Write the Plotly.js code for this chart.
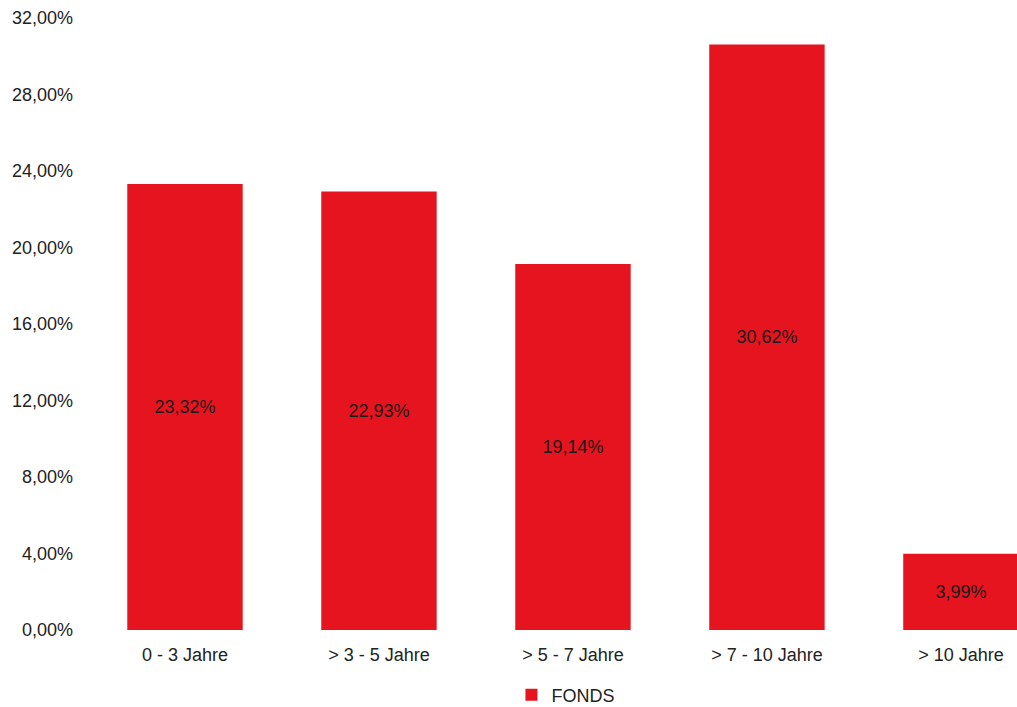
<!DOCTYPE html>
<html>
<head>
<meta charset="utf-8">
<script src="https://cdn.plot.ly/plotly-3.0.1.min.js"></script>
<style>html,body{margin:0;padding:0;background:#fff;}#chart{width:1017px;height:707px;}</style>
</head>
<body>
<div id="chart"></div>
<script>
const categories = ["0 - 3 Jahre", "> 3 - 5 Jahre", "> 5 - 7 Jahre", "> 7 - 10 Jahre", "> 10 Jahre"];
const fondsValues = [23.32, 22.93, 19.14, 30.62, 3.99];
const yTickVals = [0, 4, 8, 12, 16, 20, 24, 28, 32];
const yTickText = ["0,00%", "4,00%", "8,00%", "12,00%", "16,00%", "20,00%", "24,00%", "28,00%", "32,00%"];
const seriesName = "FONDS";

const fmt = v => v.toFixed(2).replace('.', ',') + '%';

const trace = {
  type: 'bar',
  name: seriesName,
  x: categories,
  y: fondsValues,
  text: fondsValues.map(fmt),
  textposition: 'inside',
  insidetextanchor: 'middle',
  textangle: 0,
  textfont: {family: 'Liberation Sans, Arial, sans-serif', size: 18, color: '#1a1a1a'},
  marker: {color: '#e5141f', line: {width: 0}},
  hoverinfo: 'none',
  cliponaxis: true
};

const layout = {
  width: 1017,
  height: 707,
  margin: {l: 88, r: 0, t: 18, b: 77},
  paper_bgcolor: '#ffffff',
  plot_bgcolor: '#ffffff',
  bargap: 0.405,
  font: {family: 'Liberation Sans, Arial, sans-serif', size: 18, color: '#222'},
  xaxis: {
    type: 'category',
    range: [-0.5, 4.289],
    showgrid: false,
    zeroline: false,
    showline: false,
    ticks: '',
    ticklabelstandoff: 12,
    tickfont: {size: 18, color: '#222'},
    fixedrange: true
  },
  yaxis: {
    range: [0, 32],
    tickvals: yTickVals,
    ticktext: yTickText,
    showgrid: false,
    zeroline: false,
    showline: false,
    ticks: '',
    ticklabelstandoff: 14,
    tickfont: {size: 18, color: '#222'},
    fixedrange: true
  },
  showlegend: true,
  legend: {
    orientation: 'h',
    xref: 'container',
    yref: 'container',
    x: 0.556,
    xanchor: 'center',
    y: 0.017,
    yanchor: 'middle',
    font: {size: 18, color: '#222'},
    itemwidth: 30
  }
};

Plotly.newPlot('chart', [trace], layout, {displayModeBar: false, staticPlot: true});
</script>
</body>
</html>
